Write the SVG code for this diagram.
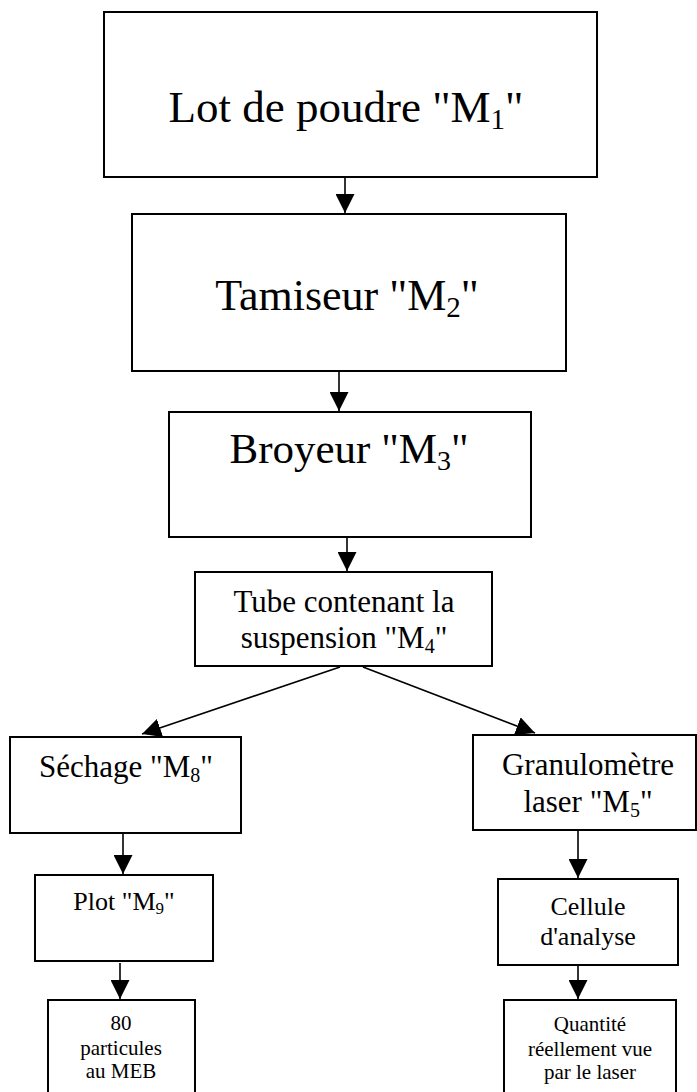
<svg xmlns="http://www.w3.org/2000/svg" width="697" height="1092" viewBox="0 0 697 1092">
<style>
.box{fill:#fff;stroke:#000;stroke-width:2}
.t{font-family:"Liberation Serif","Times New Roman",serif;fill:#000;text-anchor:middle}
.c{stroke:#000;stroke-width:1.6;fill:none;marker-end:url(#ah)}
</style>
<defs>
<marker id="ah" markerUnits="userSpaceOnUse" markerWidth="19" markerHeight="19" refX="19" refY="9.5" orient="auto" viewBox="0 0 19 19">
<path d="M0,0 L19,9.5 L0,19 z" fill="#000"/>
</marker>
</defs>
<rect width="697" height="1092" fill="#fff"/>
<g id="connectors">
<line class="c" x1="345" y1="178" x2="345" y2="213"/>
<line class="c" x1="339" y1="372" x2="339" y2="411"/>
<line class="c" x1="347" y1="538" x2="347" y2="571"/>
<line class="c" x1="340" y1="667" x2="142" y2="734"/>
<line class="c" x1="363" y1="667" x2="535" y2="733"/>
<line class="c" x1="123" y1="834" x2="123" y2="874"/>
<line class="c" x1="120" y1="963" x2="120" y2="999"/>
<line class="c" x1="578" y1="831" x2="578" y2="878"/>
<line class="c" x1="578" y1="966" x2="578" y2="999"/>
</g>
<g id="n1">
<rect class="box" x="104" y="12" width="493" height="165"/>
<text class="t" x="346" y="122" font-size="45">Lot de poudre "M<tspan font-size="29" dy="7">1</tspan><tspan dy="-7">"</tspan></text>
</g>
<g id="n2">
<rect class="box" x="132" y="214" width="434" height="157"/>
<text class="t" x="347" y="310" font-size="44">Tamiseur "M<tspan font-size="29" dy="7">2</tspan><tspan dy="-7">"</tspan></text>
</g>
<g id="n3">
<rect class="box" x="169" y="412" width="362" height="125"/>
<text class="t" x="349" y="463" font-size="43">Broyeur "M<tspan font-size="28" dy="7">3</tspan><tspan dy="-7">"</tspan></text>
</g>
<g id="n4">
<rect class="box" x="195" y="572" width="297" height="94"/>
<text class="t" x="344" y="612" font-size="31">Tube contenant la</text>
<text class="t" x="344" y="648" font-size="31">suspension "M<tspan font-size="20" dy="5">4</tspan><tspan dy="-5">"</tspan></text>
</g>
<g id="n8">
<rect class="box" x="10" y="737" width="231" height="96"/>
<text class="t" x="126" y="777" font-size="31">Séchage "M<tspan font-size="20" dy="5">8</tspan><tspan dy="-5">"</tspan></text>
</g>
<g id="n5">
<rect class="box" x="473" y="735" width="223" height="95"/>
<text class="t" x="588" y="775" font-size="31">Granulomètre</text>
<text class="t" x="588" y="812" font-size="31">laser "M<tspan font-size="20" dy="5">5</tspan><tspan dy="-5">"</tspan></text>
</g>
<g id="n9">
<rect class="box" x="35" y="875" width="178" height="86"/>
<text class="t" x="124" y="910" font-size="26">Plot "M<tspan font-size="17" dy="4">9</tspan><tspan dy="-4">"</tspan></text>
</g>
<g id="n10">
<rect class="box" x="48" y="1000" width="147" height="110"/>
<text class="t" x="121" y="1030" font-size="21">80</text>
<text class="t" x="121" y="1055" font-size="21">particules</text>
<text class="t" x="121" y="1078" font-size="21">au MEB</text>
</g>
<g id="n6">
<rect class="box" x="498" y="879" width="180" height="86"/>
<text class="t" x="588" y="915" font-size="26">Cellule</text>
<text class="t" x="588" y="945" font-size="26">d'analyse</text>
</g>
<g id="n7">
<rect class="box" x="504" y="1000" width="172" height="110"/>
<text class="t" x="590" y="1031" font-size="21">Quantité</text>
<text class="t" x="590" y="1056" font-size="21">réellement vue</text>
<text class="t" x="590" y="1079" font-size="21">par le laser</text>
</g>
</svg>
